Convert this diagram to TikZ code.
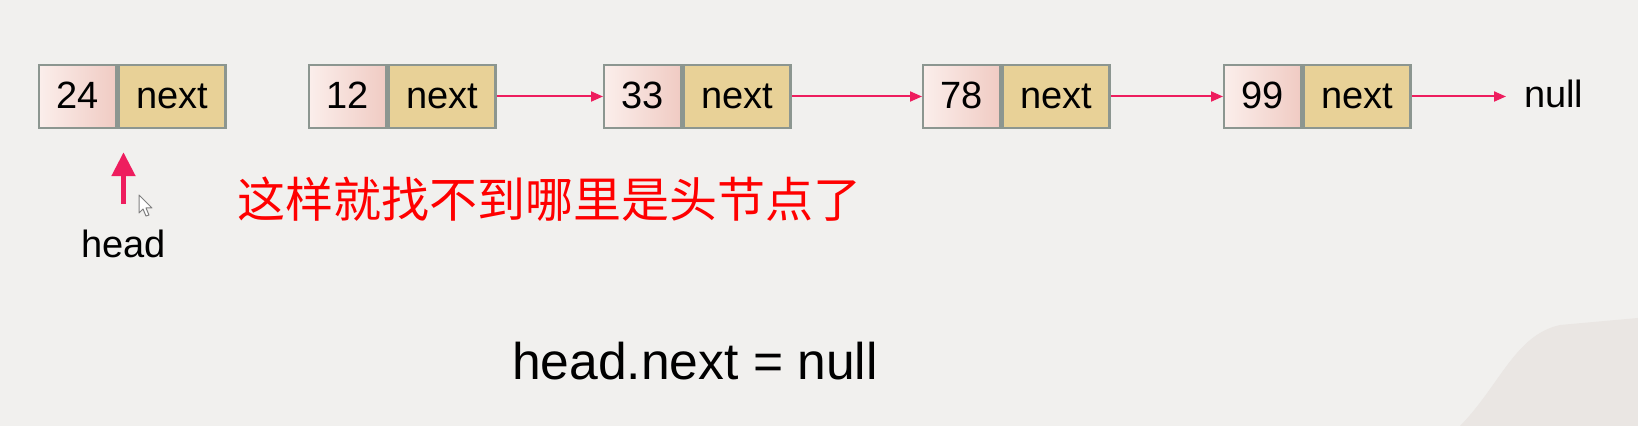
\documentclass[tikz,border=0pt]{standalone}
\usepackage{fontspec}
\setmainfont{Liberation Sans}
\newfontfamily\cjk{Noto Sans CJK SC}
\usetikzlibrary{arrows.meta}
\definecolor{bgc}{HTML}{F1F0EE}
\definecolor{curlc}{HTML}{EAE6E3}
\definecolor{cellborder}{HTML}{8C9690}
\definecolor{pinkL}{HTML}{FBEEEB}
\definecolor{pinkR}{HTML}{F0CBC3}
\definecolor{tanc}{HTML}{E8D197}
\definecolor{linkc}{HTML}{EE1D5E}
\begin{document}
\begin{tikzpicture}[x=0.5pt,y=-0.5pt,
  cellbase/.style={draw=cellborder, line width=1.2pt, minimum height=31.5pt,
    inner sep=0pt, text height=11.8pt, text depth=0pt,
    font=\fontsize{19}{19}\selectfont, anchor=west},
  datacell/.style={cellbase, minimum width=38.5pt, left color=pinkL, right color=pinkR},
  nextcell/.style={cellbase, minimum width=53.5pt, fill=tanc},
  link/.style={draw=linkc, line width=1pt, -{Triangle[length=6pt,width=5pt]}},
  headarrow/.style={draw=linkc, line width=2.5pt, -{Triangle[length=12pt,width=11.5pt]}},
  label/.style={font=\fontsize{19}{19}\selectfont}
]
\fill[bgc] (0,0) rectangle (1638,426);
\useasboundingbox (0,0) rectangle (1638,426);
\fill[curlc] (1460,426) .. controls (1500,385) and (1515,335) .. (1560,325) -- (1638,318) -- (1638,426) -- cycle;

% nodes
\node[datacell] (d1) at (38,96.5) {24};
\node[nextcell] (n1) at (d1.east) {next};
\node[datacell] (d2) at (308,96.5) {12};
\node[nextcell] (n2) at (d2.east) {next};
\node[datacell] (d3) at (603,96.5) {33};
\node[nextcell] (n3) at (d3.east) {next};
\node[datacell] (d4) at (922,96.5) {78};
\node[nextcell] (n4) at (d4.east) {next};
\node[datacell] (d5) at (1223,96.5) {99};
\node[nextcell] (n5) at (d5.east) {next};
\node[label, anchor=base west] (null) at (1517,108) {null};

% links
\draw[link] (n2.east) -- (d3.west);
\draw[link] (n3.east) -- (d4.west);
\draw[link] (n4.east) -- (d5.west);
\draw[link, shorten >=5.5pt] (n5.east) -- (n5.east -| null.west);

% head pointer
\node[label, anchor=base] (head) at (123.5,258) {head};
\coordinate (hs) at (123.5,204);
\draw[headarrow, shorten >=11.5pt] (hs) -- (hs |- n1.south);

% cursor
\draw[fill=white, draw=gray, line width=0.5pt, line join=round]
  (139,195) -- (139,213) -- (143,209) -- (146,216) -- (149,215) -- (146,208) -- (152,208) -- cycle;

% message
\node[font=\cjk\fontsize{24}{24}\selectfont, text=red, anchor=west, inner sep=0pt] (msg) at (237,199) {这样就找不到哪里是头节点了};

% bottom expression
\node[font=\fontsize{25.8}{26}\selectfont, anchor=base] (eq) at (695,380) {head.next = null};
\end{tikzpicture}
\end{document}
